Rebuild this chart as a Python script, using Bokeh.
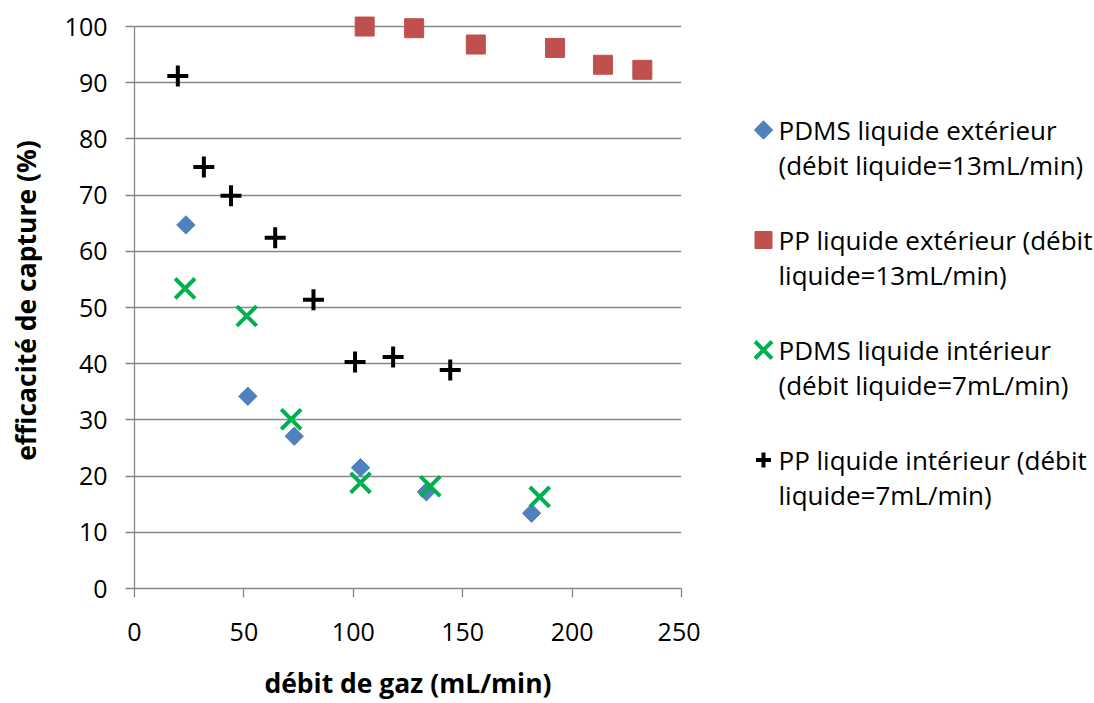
from bokeh.plotting import figure
from bokeh.layouts import row
from bokeh.models import Range1d, FixedTicker
from bokeh.core.properties import value
from bokeh.embed import file_html
from bokeh.resources import INLINE
import numpy as np

# data
pdms_ext_x = [23.5, 51.8, 73.0, 103.3, 133.4, 181.5]
pdms_ext_y = [64.7, 34.2, 27.1, 21.5, 17.2, 13.4]
pp_ext_x = [105.2, 127.8, 156.0, 192.2, 214.1, 232.1]
pp_ext_y = [100.0, 99.7, 96.8, 96.2, 93.2, 92.3]
pdms_int_x = [23.1, 51.3, 71.6, 103.3, 135.2, 185.2]
pdms_int_y = [53.4, 48.5, 30.1, 18.8, 18.2, 16.3]
pp_int_x = [19.8, 31.7, 44.1, 64.3, 81.8, 100.8, 118.2, 144.3]
pp_int_y = [91.2, 75.0, 69.9, 62.4, 51.4, 40.3, 41.2, 38.9]

legend_line1 = ["PDMS liquide extérieur", "PP liquide extérieur (débit",
                "PDMS liquide intérieur", "PP liquide intérieur (débit"]
legend_line2 = ["(débit liquide=13mL/min)", "liquide=13mL/min)",
                "(débit liquide=7mL/min)", "liquide=7mL/min)"]
x_ticks = [0, 50, 100, 150, 200, 250]
y_ticks = [0, 10, 20, 30, 40, 50, 60, 70, 80, 90, 100]

FONT = "Open Sans"
GRID = "#868686"
C_DIAM, C_SQ, C_X, C_PLUS = "#4F81BD", "#C0504D", "#00B050", "black"

p = figure(frame_width=547, frame_height=576, output_backend="svg", toolbar_location=None,
           x_range=Range1d(0, 250), y_range=Range1d(0, 102.5),
           min_border_left=134, min_border_right=19, min_border_top=12, min_border_bottom=100)
p.outline_line_color = None
p.xgrid.grid_line_color = None
p.ygrid.grid_line_color = GRID
p.ygrid.grid_line_width = 1.3
p.ygrid.ticker = FixedTicker(ticks=y_ticks)

for ax in (p.xaxis[0], p.yaxis[0]):
    ax.axis_line_color = GRID
    ax.axis_line_width = 1.3
    ax.major_tick_line_color = GRID
    ax.major_tick_line_width = 1.3
    ax.major_tick_out = 9
    ax.major_tick_in = 0
    ax.minor_tick_line_color = None
    ax.major_label_text_font = FONT
    ax.major_label_text_font_size = "25px"
    ax.major_label_text_color = "black"
    ax.axis_label_text_font = FONT
    ax.axis_label_text_font_size = "26.5px"
    ax.axis_label_text_font_style = "bold"
    ax.axis_label_text_color = "black"

p.xaxis[0].ticker = FixedTicker(ticks=x_ticks)
p.yaxis[0].ticker = FixedTicker(ticks=y_ticks)
p.yaxis[0].bounds = (0, 100)
p.xaxis[0].axis_label = "débit de gaz (mL/min)"
p.yaxis[0].axis_label = "efficacité de capture (%)"
p.xaxis[0].major_label_standoff = 25
p.yaxis[0].major_label_standoff = 18
p.xaxis[0].axis_label_standoff = 21
p.yaxis[0].axis_label_standoff = 18

p.scatter(pdms_ext_x, pdms_ext_y, marker="square", angle=np.pi / 4, size=13,
          fill_color=C_DIAM, line_color=C_DIAM)
p.scatter(pp_ext_x, pp_ext_y, marker="square", size=19,
          fill_color=C_SQ, line_color=C_SQ)
p.scatter(pdms_int_x, pdms_int_y, marker="x", size=28,
          line_color=C_X, line_width=4)
p.scatter(pp_int_x, pp_int_y, marker="cross", size=21,
          line_color=C_PLUS, line_width=4)

# legend panel (separate figure, pixel coordinates, y downward)
LW, LH = 394, 698
lg = figure(frame_width=LW, frame_height=LH, output_backend="svg", toolbar_location=None,
            x_range=Range1d(0, LW), y_range=Range1d(LH, 0), title=None,
            min_border=0, x_axis_type=None, y_axis_type=None)
lg.outline_line_color = None
lg.grid.grid_line_color = None
lg.align = "start"

mx, tx = 63, 78
base0, step, lstep = 117.0, 110, 35.5
bases = [base0 + i * step for i in range(4)]
mys = [b + 0.5 for b in bases]
lg.scatter([mx], [mys[0]], marker="square", angle=np.pi / 4, size=13,
           fill_color=C_DIAM, line_color=C_DIAM)
lg.scatter([mx], [mys[1]], marker="square", size=17,
           fill_color=C_SQ, line_color=C_SQ)
lg.scatter([mx], [mys[2]], marker="x", size=24,
           line_color=C_X, line_width=4)
lg.scatter([mx], [mys[3]], marker="cross", size=15,
           line_color=C_PLUS, line_width=4)
lg.text(x=[tx] * 8, y=bases + [b + lstep for b in bases],
        text=legend_line1 + legend_line2,
        text_font=value(FONT), text_font_size="26px", text_color="black",
        text_baseline="middle", text_align="left")

layout = row(p, lg)
open("out.html", "w").write(file_html(layout, INLINE))
